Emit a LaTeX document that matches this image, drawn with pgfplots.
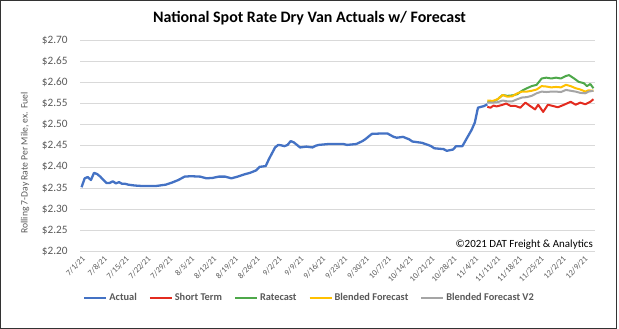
\documentclass[border=0pt]{standalone}
\usepackage{pgfplots}
\pgfplotsset{compat=1.18}
\usepackage{pgfplotstable}
\usepackage{fontspec}
\setmainfont{Carlito}
\definecolor{actual}{HTML}{4472C4}
\definecolor{shortt}{HTML}{E32B1F}
\definecolor{ratecast}{HTML}{4EA84A}
\definecolor{blended}{HTML}{FFC000}
\definecolor{blendedtwo}{HTML}{A5A5A5}
\definecolor{gridgray}{HTML}{D9D9D9}
\definecolor{labgray}{HTML}{595959}

\pgfplotstableread{
day val
0 2.352
1 2.373
2 2.376
3 2.369
4 2.386
5 2.383
6 2.377
7 2.369
8 2.362
9 2.362
10 2.366
11 2.361
12 2.364
13 2.360
14 2.360
15 2.358
17 2.356
19 2.355
22 2.355
24 2.355
27 2.358
29 2.363
31 2.369
33 2.377
35 2.378
38 2.377
40 2.373
42 2.374
44 2.377
46 2.377
48 2.373
50 2.377
52 2.382
54 2.386
56 2.392
57 2.400
59 2.402
60 2.418
61 2.432
62 2.446
63 2.452
64 2.451
65 2.449
66 2.452
67 2.461
68 2.458
69 2.452
70 2.446
72 2.448
74 2.446
75 2.450
76 2.452
79 2.454
84 2.454
85 2.452
88 2.454
90 2.461
91 2.466
93 2.478
96 2.479
98 2.479
100 2.471
101 2.469
103 2.471
105 2.465
106 2.460
109 2.457
111 2.452
112 2.449
113 2.444
116 2.442
117 2.438
119 2.441
120 2.449
122 2.449
123 2.462
124 2.475
125 2.488
126 2.505
127 2.540
129 2.544
130 2.548
}\actualtab

\pgfplotstableread{
day val
130 2.542
131 2.540
132 2.545
133 2.543
135 2.547
136 2.550
137.5 2.544
139 2.544
140.6 2.540
142.2 2.552
143.7 2.544
145.3 2.536
146.3 2.547
147.9 2.530
149.4 2.547
151 2.544
152.6 2.541
154.6 2.547
156.7 2.554
158.3 2.547
159.8 2.552
161.4 2.548
163 2.554
164 2.560
}\shorttab

\pgfplotstableread{
day val
130 2.554
131.8 2.554
133.3 2.560
134.9 2.570
136.4 2.568
138 2.569
139.6 2.572
141.1 2.580
142.7 2.586
144.2 2.591
145.8 2.594
147.4 2.609
148.9 2.611
150.5 2.609
152 2.611
153.6 2.609
155.2 2.615
156.2 2.617
157.8 2.609
159.3 2.601
160.9 2.598
161.9 2.591
163 2.596
164 2.586
}\ratetab

\pgfplotstableread{
day val
130 2.557
131.8 2.556
133.3 2.560
134.9 2.570
136.4 2.566
138 2.567
139.6 2.574
141.1 2.578
142.7 2.578
144.2 2.580
145.8 2.583
147.4 2.591
148.9 2.590
150.5 2.588
152 2.589
153.6 2.588
155.2 2.594
156.7 2.591
158.3 2.586
159.8 2.583
161.4 2.578
162.4 2.581
164 2.580
}\blendtab

\pgfplotstableread{
day val
130 2.552
131.8 2.552
133.3 2.553
134.9 2.557
136.4 2.555
138 2.555
139.6 2.560
141.1 2.564
142.7 2.565
144.2 2.568
145.8 2.574
147.4 2.578
148.9 2.577
150.5 2.578
152 2.578
153.6 2.577
155.2 2.582
156.7 2.580
158.3 2.578
159.8 2.575
161.4 2.574
162.4 2.578
164 2.580
}\blendtwotab

\begin{document}
\begin{tikzpicture}
\begin{axis}[
  at={(80bp,77.5bp)}, anchor=south west,
  width=515bp, height=211.5bp, scale only axis,
  xmin=-0.5, xmax=164.5, ymin=2.2, ymax=2.7,
  ytick={2.20,2.25,2.30,2.35,2.40,2.45,2.50,2.55,2.60,2.65,2.70},
  yticklabels={\$2.20,\$2.25,\$2.30,\$2.35,\$2.40,\$2.45,\$2.50,\$2.55,\$2.60,\$2.65,\$2.70},
  xtick={0,7,...,161},
  xticklabels={7/1/21,7/8/21,7/15/21,7/22/21,7/29/21,8/5/21,8/12/21,8/19/21,8/26/21,9/2/21,9/9/21,9/16/21,9/23/21,9/30/21,10/7/21,10/14/21,10/21/21,10/28/21,11/4/21,11/11/21,11/18/21,11/25/21,12/2/21,12/9/21},
  major tick length=0,
  ymajorgrids,
  grid style={draw=gridgray, line width=0.8bp},
  axis line style={draw=none},
  yticklabel style={font=\fontsize{11.3}{13}\selectfont, text=labgray, inner sep=0pt, anchor=east},
  yticklabel shift=12.3bp,
  xticklabel style={font=\fontsize{8.3}{10}\selectfont, text=labgray, inner sep=0pt, rotate=45, anchor=north east},
  xticklabel shift=4bp,
  legend columns=5,
  legend style={at={(0.4456,-0.2199)}, anchor=center, draw=none, fill=none,
    font=\fontsize{10.4}{12}\selectfont\bfseries, text=labgray,
    /tikz/every even column/.append style={column sep=10bp},
    inner sep=0pt},
  legend image code/.code={\draw[#1] (0bp,0bp) -- (22bp,0bp);},
  every axis plot/.append style={line width=2bp, line join=round},
]
\addplot[actual, line width=2.3bp] table[x=day,y=val]{\actualtab};
\addlegendentry{Actual}
\addplot[shortt] table[x=day,y=val]{\shorttab};
\addlegendentry{Short Term}
\addplot[ratecast] table[x=day,y=val]{\ratetab};
\addlegendentry{Ratecast}
\addplot[blended] table[x=day,y=val]{\blendtab};
\addlegendentry{Blended Forecast}
\addplot[blendedtwo] table[x=day,y=val]{\blendtwotab};
\addlegendentry{Blended Forecast V2}
\end{axis}
\node[font=\fontsize{16}{18}\selectfont\bfseries] at (309.5bp,311bp) {National Spot Rate Dry Van Actuals w/ Forecast};
\node[font=\fontsize{9.7}{11}\selectfont, text=labgray, rotate=90] at (25bp,166bp) {Rolling 7-Day Rate Per Mile, ex. Fuel};
\node[font=\fontsize{11}{13}\selectfont, anchor=east, inner sep=0pt] at (593bp,84bp) {©2021 DAT Freight \& Analytics};
\draw[black!80, line width=1bp] (0.5bp,0.5bp) rectangle (616bp,328.5bp);
\pgfresetboundingbox
\path (0,0) rectangle (619bp,329bp);
\end{tikzpicture}
\end{document}
